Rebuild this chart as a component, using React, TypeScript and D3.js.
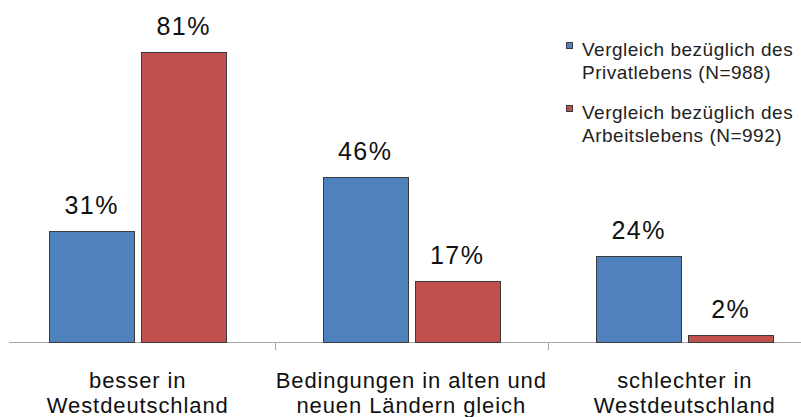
import { useEffect, useRef } from "react";
import * as d3 from "d3";

const categories = [
  ["besser in", "Westdeutschland"],
  ["Bedingungen in alten und", "neuen Ländern gleich"],
  ["schlechter in", "Westdeutschland"],
];
const seriesNames = [
  ["Vergleich bezüglich des", "Privatlebens (N=988)"],
  ["Vergleich bezüglich des", "Arbeitslebens (N=992)"],
];
const privat = [31, 46, 24];
const arbeit = [81, 17, 2];
const colors = ["#4F81BD", "#C0504D"];

export default function App() {
  const svgRef = useRef<SVGSVGElement>(null);

  useEffect(() => {
    const width = 801;
    const height = 417;
    const baseY = 342;
    const font = "'Liberation Sans', Arial, sans-serif";

    const svg = d3.select(svgRef.current).html(null);
    svg.append("rect").attr("width", width).attr("height", height).attr("fill", "#fff");

    const x0 = d3.scaleBand<number>()
      .domain([0, 1, 2])
      .range([1, 1 + 273.5 * 3])
      .paddingInner(0)
      .paddingOuter(0);

    const y = d3.scaleLinear().domain([0, 90]).range([baseY, 20]);

    const barW = 85;
    const gap = 7;
    const series = [privat, arbeit];

    // axis line + ticks
    svg.append("line")
      .attr("x1", 9).attr("x2", width)
      .attr("y1", baseY + 0.5).attr("y2", baseY + 0.5)
      .attr("stroke", "#a6a6a6").attr("stroke-width", 1);

    [1, 2].forEach(i => {
      const tx = Math.round(x0(i) as number) + 0.5;
      svg.append("line")
        .attr("x1", tx).attr("x2", tx)
        .attr("y1", baseY).attr("y2", baseY + 8)
        .attr("stroke", "#a6a6a6");
    });

    series.forEach((vals, s) => {
      vals.forEach((v, i) => {
        const center = (x0(i) as number) + x0.bandwidth() / 2;
        const bx = s === 0 ? center - gap / 2 - barW : center + gap / 2;
        svg.append("rect")
          .attr("x", Math.round(bx) + 0.5)
          .attr("y", Math.round(y(v)) + 0.5)
          .attr("width", barW)
          .attr("height", baseY - Math.round(y(v)))
          .attr("fill", colors[s])
          .attr("stroke", "#3b3b3b")
          .attr("stroke-width", 1);

        svg.append("text")
          .attr("x", bx + barW / 2)
          .attr("y", y(v) - 17)
          .attr("text-anchor", "middle")
          .style("font-family", font)
          .style("font-size", "25px")
          .style("letter-spacing", "1.5px")
          .attr("fill", "#111")
          .text(`${v}%`);
      });
    });

    // category labels
    categories.forEach((lines, i) => {
      const cx = (x0(i) as number) + x0.bandwidth() / 2;
      lines.forEach((l, j) => {
        svg.append("text")
          .attr("x", cx)
          .attr("y", 388 + j * 25)
          .attr("text-anchor", "middle")
          .style("font-family", font)
          .style("font-size", "22px")
          .style("letter-spacing", "0.9px")
          .attr("fill", "#111")
          .text(l);
      });
    });

    // legend (text runs off the right edge, as in the original)
    seriesNames.forEach((lines, s) => {
      const top = 42 + s * 63;
      svg.append("rect")
        .attr("x", 566.5).attr("y", top + 0.5)
        .attr("width", 6).attr("height", 6)
        .attr("fill", colors[s])
        .attr("stroke", "#3b3b3b");
      lines.forEach((l, j) => {
        svg.append("text")
          .attr("x", 582)
          .attr("y", top + 14 + j * 23)
          .style("font-family", font)
          .style("font-size", "19px")
          .style("letter-spacing", "0.5px")
          .attr("fill", "#222")
          .text(l);
      });
    });
  }, []);

  return (
    <svg
      ref={svgRef}
      width={801}
      height={417}
      style={{ position: "absolute", left: 0, top: 0, display: "block" }}
    ></svg>
  );
}
